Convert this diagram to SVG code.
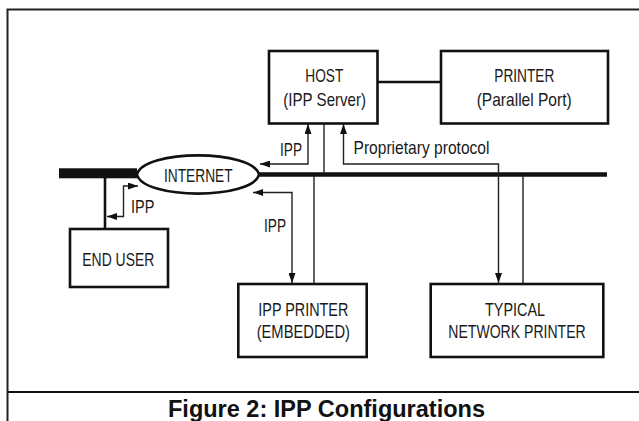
<svg xmlns="http://www.w3.org/2000/svg" width="639" height="421" viewBox="0 0 639 421">
<style>
.box{fill:#fff;stroke:#111;stroke-width:2.6}
.t{font-family:"Liberation Sans",Arial,sans-serif;font-size:19px;fill:#1a1a1a}
.m{text-anchor:middle}
.thin{fill:none;stroke:#222;stroke-width:1.4}
.cap{font-family:"Liberation Sans",Arial,sans-serif;font-size:23px;font-weight:bold;fill:#111;text-anchor:middle}
</style>
<defs>
<marker id="ah" viewBox="0 0 10 7" refX="10" refY="3.5" markerWidth="10" markerHeight="7" markerUnits="userSpaceOnUse" orient="auto-start-reverse">
<path d="M0,0 L10,3.5 L0,7 z" fill="#111"/>
</marker>
</defs>
<rect width="639" height="421" fill="#fff"/>
<g id="frame">
<rect x="7.5" y="9.5" width="700" height="500" fill="none" stroke="#222" stroke-width="2"/>
<line x1="7.5" y1="392" x2="639" y2="392" stroke="#111" stroke-width="2"/>
<text class="cap" x="326.5" y="416.5" textLength="317" lengthAdjust="spacingAndGlyphs">Figure 2: IPP Configurations</text>
</g>
<g id="connectors">
<rect x="59" y="168.3" width="78" height="10" fill="#111"/>
<line x1="259" y1="174.5" x2="607" y2="174.5" stroke="#111" stroke-width="4.6"/>
<line x1="105" y1="178" x2="105" y2="229" stroke="#111" stroke-width="2.6"/>
<line x1="377" y1="82" x2="441" y2="82" stroke="#111" stroke-width="2.6"/>
<line x1="324" y1="123" x2="324" y2="174" class="thin"/>
<line x1="314" y1="175" x2="314" y2="284" class="thin"/>
<line x1="523" y1="175" x2="523" y2="284" class="thin"/>
<path class="thin" d="M107,216.5 H123.5 V186 H138" marker-start="url(#ah)" marker-end="url(#ah)"/>
<path class="thin" d="M260,164 H308 V124" marker-start="url(#ah)" marker-end="url(#ah)"/>
<path class="thin" d="M343.5,124 V164 H498.5 V283" marker-start="url(#ah)" marker-end="url(#ah)"/>
<path class="thin" d="M253,192.5 H292 V283" marker-start="url(#ah)" marker-end="url(#ah)"/>
<text class="t" x="131" y="212.5" textLength="23.3" lengthAdjust="spacingAndGlyphs">IPP</text>
<text class="t" x="280" y="156" textLength="22" lengthAdjust="spacingAndGlyphs">IPP</text>
<text class="t" x="353.5" y="153.5" textLength="136" lengthAdjust="spacingAndGlyphs">Proprietary protocol</text>
<text class="t" x="264" y="231.5" textLength="22" lengthAdjust="spacingAndGlyphs">IPP</text>
</g>
<g id="internet">
<path d="M137,174.5 C143,149 253,149 259,174.5 C253,200 143,200 137,174.5 Z" fill="#fff" stroke="#111" stroke-width="2.6"/>
<text class="t m" x="198.3" y="182" textLength="68.7" lengthAdjust="spacingAndGlyphs">INTERNET</text>
</g>
<g id="host">
<rect class="box" x="269" y="51" width="108.5" height="72.5"/>
<text class="t m" x="324.3" y="81.5" textLength="38" lengthAdjust="spacingAndGlyphs">HOST</text>
<text class="t m" x="324.7" y="106" textLength="82.7" lengthAdjust="spacingAndGlyphs">(IPP Server)</text>
</g>
<g id="printer">
<rect class="box" x="441" y="51" width="167" height="72.5"/>
<text class="t m" x="524.3" y="81.5" textLength="60" lengthAdjust="spacingAndGlyphs">PRINTER</text>
<text class="t m" x="524.2" y="106" textLength="95" lengthAdjust="spacingAndGlyphs">(Parallel Port)</text>
</g>
<g id="enduser">
<rect class="box" x="70" y="229" width="98" height="58"/>
<text class="t m" x="118.3" y="266" textLength="72" lengthAdjust="spacingAndGlyphs">END USER</text>
</g>
<g id="ippprinter">
<rect class="box" x="238.3" y="284" width="128.4" height="73"/>
<text class="t m" x="303.3" y="316" textLength="90" lengthAdjust="spacingAndGlyphs">IPP PRINTER</text>
<text class="t m" x="303.3" y="338" textLength="93.3" lengthAdjust="spacingAndGlyphs">(EMBEDDED)</text>
</g>
<g id="netprinter">
<rect class="box" x="430.7" y="284" width="172.6" height="73"/>
<text class="t m" x="515" y="316" textLength="60" lengthAdjust="spacingAndGlyphs">TYPICAL</text>
<text class="t m" x="517" y="338" textLength="137.3" lengthAdjust="spacingAndGlyphs">NETWORK PRINTER</text>
</g>
</svg>
